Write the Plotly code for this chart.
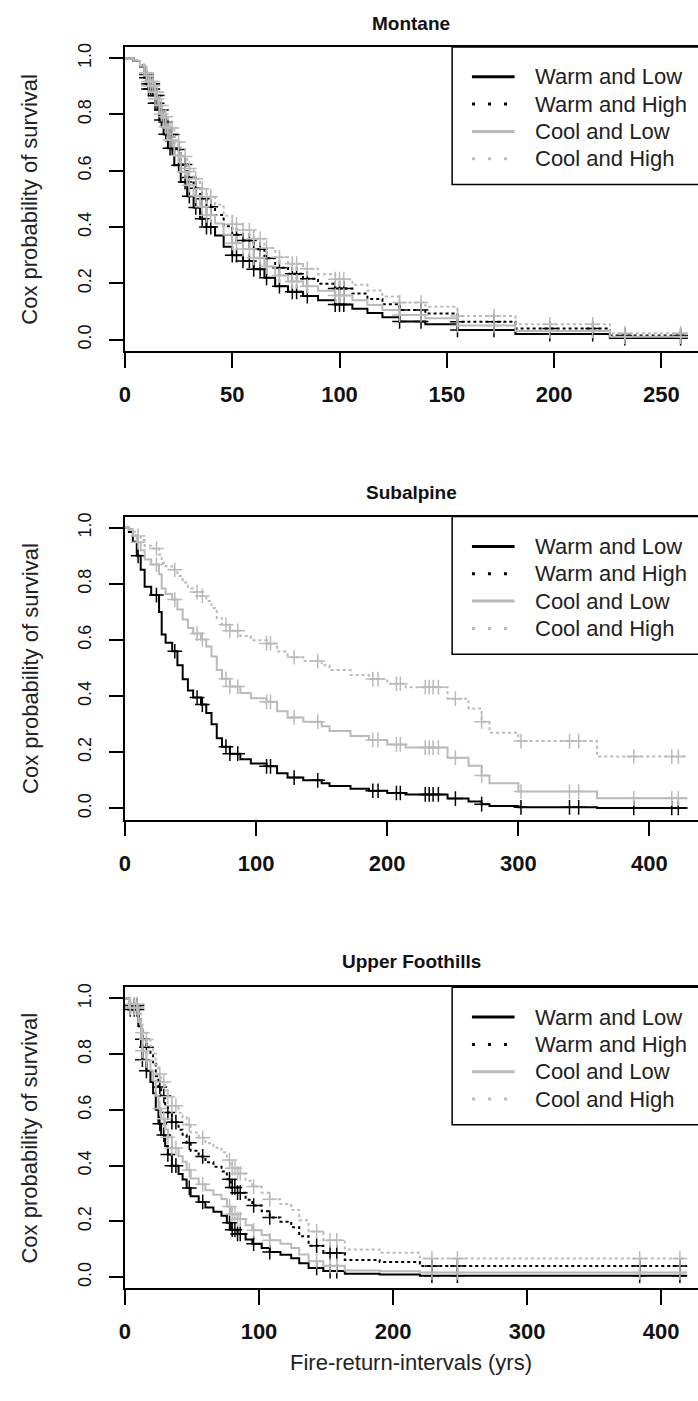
import numpy as np
import plotly.graph_objects as go

FIG_W, FIG_H = 698, 1401

# ---------------- data ----------------
series_names = ["Warm and Low", "Warm and High", "Cool and Low", "Cool and High"]

# Montane
montane_time = [0, 4, 7, 9, 11, 14, 16, 18, 20, 23, 26, 29, 32, 35, 38, 42, 46, 50, 55, 60,
                65, 70, 76, 83, 90, 98, 106, 113, 120, 128, 140, 155, 182, 226]
montane_warm_low = [1.0, .99, .97, .93, .89, .84, .78, .73, .68, .62, .56, .51, .47, .43, .40, .37, .33, .30, .28, .25,
                    .22, .19, .17, .155, .14, .125, .11, .095, .08, .065, .055, .035, .02, .006]
montane_warm_high = [1.0, .992, .975, .942, .909, .867, .816, .773, .729, .676, .622, .576, .538, .501, .472, .443, .403, .373, .352, .321,
                     .289, .256, .234, .217, .199, .182, .164, .145, .126, .106, .093, .064, .040, .015]
montane_cool_low = [1.0, .991, .973, .938, .902, .856, .802, .756, .709, .654, .597, .549, .511, .472, .442, .413, .373, .343, .322, .291,
                    .260, .228, .207, .190, .174, .157, .140, .123, .106, .088, .076, .051, .031, .011]
montane_cool_high = [1.0, .993, .978, .948, .917, .879, .832, .792, .752, .702, .651, .608, .572, .536, .508, .479, .440, .410, .390, .359,
                     .326, .293, .270, .252, .233, .215, .195, .175, .154, .132, .117, .084, .055, .023]
montane_censor = [10, 11, 12, 13, 14, 15, 17, 19, 21, 22, 25, 28, 30, 33, 36, 38, 40, 50, 52, 55, 58, 60, 63, 66,
                  72, 78, 80, 85, 98, 100, 102, 128, 138, 155, 172, 198, 218, 233, 259]
montane_end = 262

# Subalpine (no visible "Warm and High" curve)
subalpine_time = [0, 3, 6, 9, 12, 15, 20, 26, 28, 31, 36, 40, 44, 48, 52, 58, 62, 66, 70, 74,
                  80, 88, 96, 108, 116, 124, 136, 150, 156, 172, 186, 200, 214, 246, 262, 272, 278, 300, 360]
subalpine_warm_low = [1.0, .985, .95, .90, .85, .79, .76, .70, .62, .59, .56, .51, .46, .42, .395, .37, .34, .30, .25, .22,
                      .195, .175, .16, .15, .125, .11, .10, .09, .08, .07, .063, .055, .05, .035, .025, .015, .009, .004, .0015]
subalpine_cool_low = [1.0, .992, .974, .948, .920, .887, .869, .834, .784, .764, .744, .709, .673, .643, .623, .602, .577, .541, .493, .462,
                      .434, .411, .393, .380, .346, .324, .309, .293, .276, .258, .244, .228, .217, .181, .152, .117, .090, .060, .036]
subalpine_cool_high = [1.0, .996, .986, .971, .956, .936, .926, .905, .875, .863, .850, .828, .805, .784, .771, .757, .739, .714, .678, .654,
                       .633, .614, .599, .588, .559, .539, .525, .510, .493, .475, .461, .444, .432, .391, .356, .309, .270, .240, .185]
subalpine_censor = [10, 24, 38, 55, 59, 77, 80, 86, 108, 111, 129, 147, 189, 193, 207, 210, 229, 232, 235, 239,
                    252, 272, 302, 339, 346, 388, 417, 422]
subalpine_end = 429

# Upper Foothills
foothills_time = [0, 3, 10, 12, 13, 16, 19, 21, 23, 25, 27, 30, 32, 35, 40, 43, 46, 49, 55, 60,
                  66, 72, 76, 79, 84, 90, 95, 102, 108, 116, 124, 130, 137, 148, 164, 190, 220]
foothills_warm_low = [1.0, .96, .90, .83, .78, .74, .70, .66, .60, .55, .51, .47, .44, .40, .37, .35, .32, .29, .27, .25,
                      .235, .22, .195, .17, .155, .135, .12, .105, .09, .08, .068, .05, .033, .022, .012, .01, .005]
foothills_warm_high = [1.0, .974, .935, .888, .853, .825, .796, .766, .721, .682, .650, .617, .591, .556, .529, .511, .482, .453, .433, .412,
                       .396, .379, .351, .322, .303, .278, .257, .236, .214, .199, .179, .147, .113, .087, .062, .054, .040]
foothills_cool_low = [1.0, .966, .915, .855, .812, .777, .741, .705, .651, .605, .568, .530, .502, .463, .434, .414, .384, .354, .333, .312,
                      .296, .280, .253, .226, .209, .186, .168, .151, .132, .120, .105, .081, .057, .0405, .024, .021, .017]
foothills_cool_high = [1.0, .979, .946, .906, .877, .852, .828, .802, .763, .729, .700, .670, .647, .615, .590, .573, .547, .519, .500, .480,
                       .464, .448, .420, .391, .372, .346, .325, .303, .279, .262, .241, .204, .164, .132, .099, .088, .067]
foothills_censor = [4, 7, 9, 13, 16, 26, 29, 32, 35, 38, 48, 58, 78, 80, 82, 84, 86, 96, 108, 143, 153, 158,
                    229, 248, 384, 414]
foothills_end = 419

x_ticks_montane = [0, 50, 100, 150, 200, 250]
x_ticks_wide = [0, 100, 200, 300, 400]
y_ticks = [0.0, 0.2, 0.4, 0.6, 0.8, 1.0]
y_tick_labels = ["0.0", "0.2", "0.4", "0.6", "0.8", "1.0"]

panel_titles = ["Montane", "Subalpine", "Upper Foothills"]
y_title = "Cox probability of survival"
x_title = "Fire-return-intervals (yrs)"

# ---------------- styling ----------------
GREY = "#bababa"
STYLE = {
    "Warm and Low": dict(color="#000000", dash="solid"),
    "Warm and High": dict(color="#000000", dash="dot"),
    "Cool and Low": dict(color=GREY, dash="solid"),
    "Cool and High": dict(color=GREY, dash="dot"),
}
LEG_DASH = {"solid": "solid", "dot": "3px,13px"}
FONT = "Liberation Sans, Arial, sans-serif"
NARROW = "Liberation Sans Narrow, Arial Narrow, Liberation Sans, Arial, sans-serif"

panels = [
    dict(title=panel_titles[0], time=montane_time, end=montane_end, censor=montane_censor,
         series={"Warm and Low": montane_warm_low, "Warm and High": montane_warm_high,
                 "Cool and Low": montane_cool_low, "Cool and High": montane_cool_high},
         xrange=[0, 267.1], xticks=x_ticks_montane, top=43, bottom=348, title_y=20),
    dict(title=panel_titles[1], time=subalpine_time, end=subalpine_end, censor=subalpine_censor,
         series={"Warm and Low": subalpine_warm_low,
                 "Cool and Low": subalpine_cool_low, "Cool and High": subalpine_cool_high},
         xrange=[0, 437], xticks=x_ticks_wide, top=514, bottom=818, title_y=490),
    dict(title=panel_titles[2], time=foothills_time, end=foothills_end, censor=foothills_censor,
         series={"Warm and Low": foothills_warm_low, "Warm and High": foothills_warm_high,
                 "Cool and Low": foothills_cool_low, "Cool and High": foothills_cool_high},
         xrange=[0, 427.5], xticks=x_ticks_wide, top=986, bottom=1288, title_y=960),
]

PLOT_LEFT = 120


def pxx(p):
    return p / FIG_W


def pxy(p):
    return 1 - p / FIG_H


fig = go.Figure()
shapes = []
annotations = []
layout_axes = {}

for i, panel in enumerate(panels, start=1):
    sfx = "" if i == 1 else str(i)
    xa, ya = "x" + sfx, "y" + sfx
    t = np.asarray(panel["time"], dtype=float)
    cens = np.asarray(panel["censor"], dtype=float)
    pos = np.searchsorted(t, cens, side="right") - 1
    for name, surv in panel["series"].items():
        s = np.asarray(surv, dtype=float)
        st = STYLE[name]
        fig.add_trace(go.Scatter(
            x=np.append(t, panel["end"]), y=np.append(s, s[-1]), mode="lines",
            line=dict(shape="hv", color=st["color"], width=2, dash=st["dash"]),
            name=name, xaxis=xa, yaxis=ya, showlegend=False, hoverinfo="skip"))
        fig.add_trace(go.Scatter(
            x=cens, y=s[pos], mode="markers",
            marker=dict(symbol="cross-thin", size=10.5, color=st["color"],
                        line=dict(color=st["color"], width=1.5)),
            name=name + " (censored)", xaxis=xa, yaxis=ya, showlegend=False, hoverinfo="skip"))

    top, bottom = panel["top"], panel["bottom"]
    layout_axes["xaxis" + sfx] = dict(
        domain=[pxx(PLOT_LEFT), 1], range=panel["xrange"], tickvals=panel["xticks"],
        ticks="outside", ticklen=15, tickwidth=1.5, tickcolor="black",
        showline=True, linecolor="black", linewidth=1.5, mirror=True,
        showgrid=False, zeroline=False, anchor=ya, ticklabelstandoff=8,
        tickfont=dict(family=NARROW, size=22, color="#111111", weight="bold"))
    layout_axes["yaxis" + sfx] = dict(
        domain=[pxy(bottom), pxy(top)], range=[-0.04, 1.04],
        tickvals=y_ticks, ticktext=y_tick_labels, tickangle=-90,
        ticks="outside", ticklen=14, tickwidth=1.5, tickcolor="black",
        showline=True, linecolor="black", linewidth=1.5, mirror=False,
        showgrid=False, zeroline=False, anchor=xa, ticklabelstandoff=11,
        tickfont=dict(family=FONT, size=18, color="#111111"))

    # panel title
    annotations.append(dict(text=panel["title"], x=pxx(409), y=pxy(panel["title_y"]),
                            xref="paper", yref="paper", xanchor="center", yanchor="middle",
                            showarrow=False, font=dict(family=FONT, size=19, color="#111111", weight="bold")))
    # y title
    annotations.append(dict(text=y_title, x=pxx(24), y=pxy((top + bottom) / 2),
                            xref="paper", yref="paper", xanchor="center", yanchor="middle",
                            textangle=-90, showarrow=False, font=dict(family=FONT, size=22, color="#222222")))

    # legend box (top-right, R style)
    leg_top, leg_bot = top, top + 138
    shapes.append(dict(type="rect", xref="paper", yref="paper", x0=pxx(450), x1=pxx(699),
                       y0=pxy(leg_bot), y1=pxy(leg_top), line=dict(color="black", width=1.5),
                       fillcolor="white", layer="above"))
    for k, name in enumerate(series_names):
        ry = leg_top + 30 + k * 27.4
        st = STYLE[name]
        shapes.append(dict(type="line", xref="paper", yref="paper", x0=pxx(470), x1=pxx(513),
                           y0=pxy(ry), y1=pxy(ry),
                           line=dict(color=st["color"], width=3, dash=LEG_DASH[st["dash"]]),
                           layer="above"))
        annotations.append(dict(text=name, x=pxx(532), y=pxy(ry), xref="paper", yref="paper",
                                xanchor="left", yanchor="middle", showarrow=False,
                                font=dict(family=FONT, size=22, color="#222222")))

annotations.append(dict(text=x_title, x=pxx(409), y=pxy(1362), xref="paper", yref="paper",
                        xanchor="center", yanchor="middle", showarrow=False,
                        font=dict(family=FONT, size=22, color="#222222")))

fig.update_layout(
    width=FIG_W, height=FIG_H, margin=dict(l=0, r=0, t=0, b=0),
    paper_bgcolor="white", plot_bgcolor="white", showlegend=False,
    shapes=shapes, annotations=annotations, **layout_axes)

fig.write_html("out.html")
